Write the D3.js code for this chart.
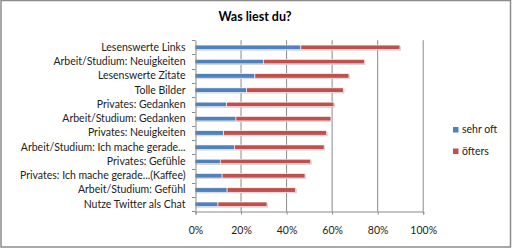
<!DOCTYPE html>
<html><head><meta charset="utf-8">
<script src="https://cdn.jsdelivr.net/npm/d3@7"></script>
<style>body{margin:0;background:#fff}svg{display:block}text{font-family:Lato,"Open Sans",sans-serif}</style>
</head><body><svg id="c" width="512" height="249"></svg>
<script>
const categories = ["Lesenswerte Links","Arbeit/Studium: Neuigkeiten","Lesenswerte Zitate","Tolle Bilder","Privates: Gedanken","Arbeit/Studium: Gedanken","Privates: Neuigkeiten","Arbeit/Studium: Ich mache gerade...","Privates: Gefühle","Privates: Ich mache gerade...(Kaffee)","Arbeit/Studium: Gefühl","Nutze Twitter als Chat"];
const sehrOft = [46.5,30,26.3,22.7,13.9,18,12.6,17.3,11.1,11.9,14.1,10.1];
const oefters = [43.5,44.4,41.3,42.4,47.1,41.7,45.2,39.4,39.7,36.4,30.1,21.5];
const seriesNames = ["sehr oft","öfters"];
const colors = ["#4F81BD","#C0504D"];
const xTicks = [0,20,40,60,80,100];

const svg = d3.select("#c");
svg.append("rect").attr("x",1).attr("y",0.5).attr("width",509.5).attr("height",246.5).attr("fill","#fff").attr("stroke","#8c8c8c").attr("stroke-width",1.5);

svg.append("text").attr("x",255).attr("y",21).attr("text-anchor","middle").attr("font-size",12.5).attr("font-weight","bold").text("Was liest du?");

const x = d3.scaleLinear().domain([0,100]).range([195,422.7]);
const y = d3.scaleBand().domain(categories).range([40.2,211.4]).paddingInner(0).paddingOuter(0);

// gridlines
svg.append("g").selectAll("line").data(xTicks.slice(1)).join("line")
  .attr("x1",d=>x(d)+0.5).attr("x2",d=>x(d)+0.5).attr("y1",40.2).attr("y2",211.4)
  .attr("stroke","#8a8a8a").attr("stroke-width",1);

// bars
const data = categories.map((c,i)=>({c, vals:[sehrOft[i],oefters[i]]}));
const bh = 4.5;
const rows = svg.append("g").selectAll("g").data(data).join("g");
rows.each(function(d){
  const g = d3.select(this);
  let acc = 0;
  d.vals.forEach((v,k)=>{
    const x0 = x(acc), x1 = x(acc+v);
    const yc = y(d.c)+y.bandwidth()/2;
    g.append("rect").attr("x",x0+1).attr("y",yc-bh/2+1).attr("width",x1-x0).attr("height",bh).attr("fill","#c8c8c8");
    g.append("rect").attr("x",x0).attr("y",yc-bh/2).attr("width",x1-x0).attr("height",bh).attr("fill",colors[k]).attr("stroke","#fff").attr("stroke-width",0.6);
    acc += v;
  });
});

// axes
const yAxis = d3.axisLeft(y).tickSize(0).tickPadding(10);
const yg = svg.append("g").attr("transform","translate(195.5,0)").call(yAxis);
yg.select(".domain").attr("stroke","#8a8a8a");
yg.selectAll("text").attr("font-size",10.5).attr("fill","#222");
// category boundary ticks
svg.append("g").selectAll("line").data(d3.range(categories.length+1)).join("line")
  .attr("x1",192).attr("x2",195.5).attr("y1",i=>Math.round(40.2+i*y.step())+0.5).attr("y2",i=>Math.round(40.2+i*y.step())+0.5)
  .attr("stroke","#8a8a8a");

const xAxis = d3.axisBottom(x).tickValues(xTicks).tickFormat(d=>d+"%").tickSize(3).tickPadding(12);
const xg = svg.append("g").attr("transform","translate(0.5,211.5)").call(xAxis);
xg.select(".domain").attr("stroke","#8a8a8a");
xg.selectAll("line").attr("stroke","#8a8a8a");
xg.selectAll("text").attr("font-size",10.5).attr("fill","#222");

// legend
const lg = svg.append("g").selectAll("g").data(seriesNames).join("g")
  .attr("transform",(d,i)=>`translate(453,${127+i*21.5})`);
lg.append("rect").attr("x",0).attr("y",0).attr("width",5.5).attr("height",5.5).attr("fill",(d,i)=>colors[i]);
lg.append("text").attr("x",9).attr("y",6).attr("font-size",10.5).attr("fill","#222").text(d=>d);
</script></body></html>
